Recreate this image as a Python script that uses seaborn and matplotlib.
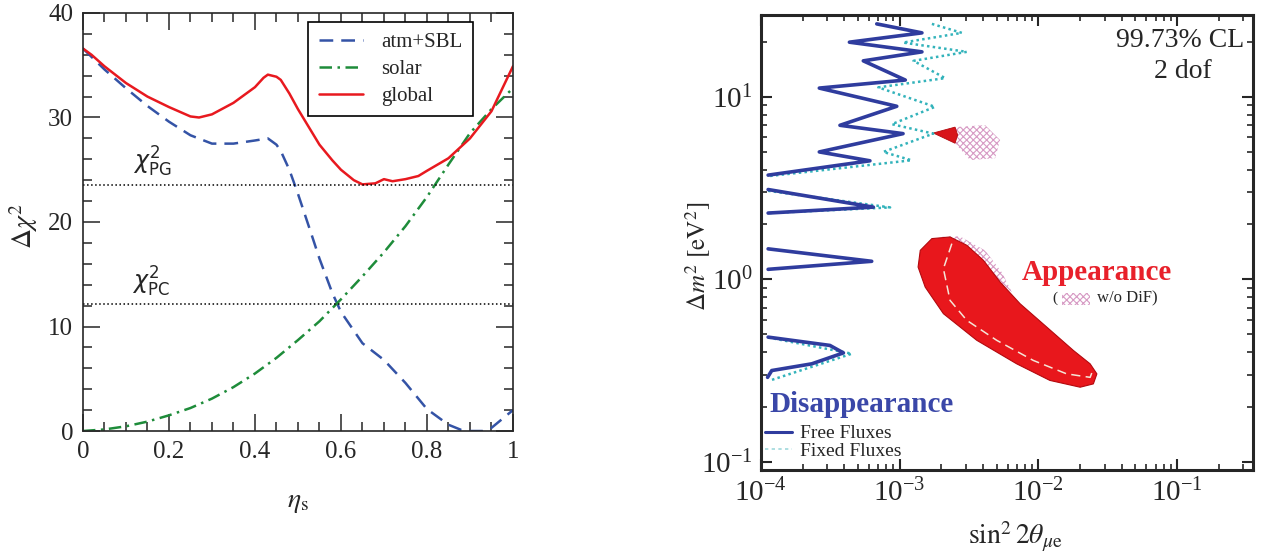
import matplotlib
matplotlib.use('Agg')
import matplotlib.pyplot as plt
import seaborn as sns
import pandas as pd
from matplotlib.lines import Line2D
from matplotlib.patches import Rectangle
from matplotlib.ticker import MultipleLocator, LogLocator, NullFormatter

# ---- left panel data (eta_s vs delta chi2) ----
atm_eta = [0.00, 0.05, 0.10, 0.15, 0.20, 0.25, 0.30, 0.35, 0.40, 0.43, 0.45, 0.46, 0.48,
           0.50, 0.53, 0.55, 0.58, 0.60, 0.63, 0.65, 0.70, 0.75, 0.80, 0.85, 0.88, 0.90,
           0.93, 0.95, 1.00]
atm_chi2 = [36.6, 34.6, 32.8, 31.1, 29.6, 28.3, 27.5, 27.5, 27.8, 28.0, 27.4, 26.8, 25.0,
            22.7, 19.0, 16.5, 13.2, 11.4, 9.6, 8.4, 6.8, 4.6, 2.1, 0.6, 0.1, 0.0,
            0.0, 0.3, 2.0]

solar_eta = [0.00, 0.05, 0.10, 0.15, 0.20, 0.25, 0.30, 0.35, 0.40, 0.45, 0.50, 0.55,
             0.60, 0.65, 0.70, 0.75, 0.80, 0.85, 0.90, 0.95, 1.00]
solar_chi2 = [0.0, 0.15, 0.45, 0.9, 1.5, 2.2, 3.1, 4.2, 5.5, 7.0, 8.7, 10.5,
              12.6, 14.8, 17.1, 19.6, 22.4, 25.5, 28.5, 30.8, 32.8]

glob_eta = [0.00, 0.02, 0.05, 0.10, 0.15, 0.20, 0.25, 0.27, 0.30, 0.35, 0.40, 0.42, 0.43,
            0.45, 0.46, 0.48, 0.50, 0.55, 0.58, 0.60, 0.63, 0.65, 0.68, 0.70, 0.72, 0.75,
            0.78, 0.80, 0.85, 0.90, 0.95, 1.00]
glob_chi2 = [36.6, 36.0, 34.9, 33.3, 32.0, 31.0, 30.1, 30.0, 30.3, 31.4, 32.9, 33.8, 34.1,
             33.9, 33.6, 32.3, 30.8, 27.4, 25.9, 25.0, 24.0, 23.6, 23.7, 24.1, 23.9, 24.1,
             24.4, 24.9, 26.1, 28.0, 30.6, 34.9]

chi2_pg = 23.5
chi2_pc = 12.2
eta_ticks = [0, 0.2, 0.4, 0.6, 0.8, 1]
eta_ticklabels = ['0', '0.2', '0.4', '0.6', '0.8', '1']

# ---- right panel data (sin^2 2theta vs dm^2) ----
free_x = [6.85e-4, 1.45e-3, 4.35e-4, 1.45e-3, 5.48e-4, 1.10e-3, 2.64e-4, 9.55e-4, 3.72e-4,
          1.06e-3, 2.64e-4, 6.12e-4, 1.13e-4,
          1.13e-4, 6.47e-4, 1.13e-4,
          1.13e-4, 6.30e-4, 1.13e-4,
          1.13e-4, 3.15e-4, 3.94e-4, 2.33e-4, 1.20e-4, 1.12e-4]
free_y = [25.2, 22.5, 20.0, 17.7, 15.8, 12.4, 11.2, 8.9, 7.0,
          6.3, 5.0, 4.47, 3.73,
          3.11, 2.49, 2.31,
          1.47, 1.256, 1.135,
          0.482, 0.434, 0.395, 0.344, 0.316, 0.29]
free_seg = [0] * 13 + [1] * 3 + [2] * 3 + [3] * 6

fixed_x = [1.71e-3, 2.81e-3, 1.06e-3, 3.05e-3, 1.26e-3, 2.13e-3, 7.03e-4, 1.80e-3, 8.8e-4,
           1.75e-3, 7.63e-4, 1.22e-3, 1.13e-4,
           1.13e-4, 8.55e-4, 1.13e-4,
           1.13e-4, 4.53e-4, 1.17e-4]
fixed_y = [25.2, 22.5, 19.9, 17.7, 15.8, 12.7, 11.3, 8.84, 7.1,
           6.3, 5.0, 4.5, 3.68,
           3.06, 2.48, 2.31,
           0.48, 0.391, 0.279]
fixed_seg = [0] * 13 + [1] * 3 + [2] * 3

app_x = [1.71e-3, 2.31e-3, 3.05e-3, 4.02e-3, 5.30e-3, 7.38e-3, 1.15e-2, 1.79e-2, 2.36e-2,
         2.64e-2, 2.49e-2, 2.0e-2, 1.21e-2, 6.98e-3, 3.6e-3, 2.07e-3, 1.53e-3, 1.36e-3, 1.41e-3]
app_y = [1.673, 1.708, 1.538, 1.272, 0.967, 0.735, 0.547, 0.407, 0.344,
         0.303, 0.267, 0.256, 0.279, 0.344, 0.463, 0.648, 0.907, 1.168, 1.442]

app_dash_x = [2.38e-3, 2.07e-3, 2.07e-3, 2.31e-3, 3.05e-3, 5.01e-3, 9.2e-3, 1.6e-2, 2.36e-2, 2.49e-2]
app_dash_y = [1.57, 1.326, 0.987, 0.767, 0.596, 0.463, 0.359, 0.303, 0.290, 0.323]

nodif_x = [1.89e-3, 2.73e-3, 4.13e-3, 5.47e-3, 6.45e-3, 5.30e-3, 4.02e-3, 3.05e-3, 2.31e-3]
nodif_y = [1.72, 1.72, 1.44, 1.09, 0.849, 0.967, 1.272, 1.538, 1.708]

tri_x = [1.75e-3, 2.51e-3, 2.62e-3, 2.51e-3]
tri_y = [6.35, 6.84, 6.2, 5.58]

nodif_small_x = [2.51e-3, 4.13e-3, 5.30e-3, 4.88e-3, 3.22e-3, 2.51e-3]
nodif_small_y = [6.84, 7.02, 5.81, 4.62, 4.51, 5.58]

sns.set_style('ticks')
plt.rcParams['font.family'] = ['Liberation Serif', 'DejaVu Serif']
plt.rcParams['mathtext.fontset'] = 'stix'
plt.rcParams['hatch.linewidth'] = 0.8

fig = plt.figure(figsize=(12.76, 5.55), dpi=100)
ax1 = fig.add_axes([0.065, 0.2234, 0.337, 0.7532])
ax2 = fig.add_axes([0.5962, 0.1532, 0.3858, 0.8198])

# ---------------- left panel ----------------
sns.lineplot(x=atm_eta, y=atm_chi2, ax=ax1, color='#3453a6', lw=1.8,
             linestyle=(0, (5.5, 3.2)), label='atm+SBL')
sns.lineplot(x=solar_eta, y=solar_chi2, ax=ax1, color='#1e8c3a', lw=1.8,
             linestyle=(0, (5, 2.2, 1, 2.2)), label='solar')
sns.lineplot(x=glob_eta, y=glob_chi2, ax=ax1, color='#e8191f', lw=1.8, label='global')
ax1.axhline(chi2_pg, color='k', ls=':', lw=1.1)
ax1.axhline(chi2_pc, color='k', ls=':', lw=1.1)
ax1.text(0.16, chi2_pg + 0.6, r'$\chi^2_{\mathrm{PG}}$', ha='center', va='bottom', fontsize=17,
         math_fontfamily='dejavusans')
ax1.text(0.157, chi2_pc + 0.4, r'$\chi^2_{\mathrm{PC}}$', ha='center', va='bottom', fontsize=17,
         math_fontfamily='dejavusans')

ax1.set_xlim(0, 1)
ax1.set_ylim(0, 40)
ax1.set_xticks(eta_ticks)
ax1.set_xticklabels(eta_ticklabels)
ax1.xaxis.set_minor_locator(MultipleLocator(0.05))
ax1.yaxis.set_major_locator(MultipleLocator(10))
ax1.yaxis.set_minor_locator(MultipleLocator(2))
ax1.tick_params(which='major', direction='in', top=True, right=True, length=12, width=1.1,
                labelsize=18, pad=7)
ax1.tick_params(which='minor', direction='in', top=True, right=True, length=6.5, width=1.1)
for s in ax1.spines.values():
    s.set_linewidth(1.2)
ax1.set_xlabel(r'$\eta_{\rm s}$', fontsize=20)
ax1.xaxis.set_label_coords(0.5, -0.14)
ax1.set_ylabel(r'$\Delta\chi^2$', fontsize=20)
ax1.yaxis.set_label_coords(-0.1, 0.49)
leg = ax1.legend(loc='upper right', bbox_to_anchor=(0.907, 0.978), borderaxespad=0,
                 fancybox=False, edgecolor='k', framealpha=1, fontsize=15,
                 handlelength=2.1, handletextpad=0.9, labelspacing=0.35, borderpad=0.5)
leg.get_frame().set_linewidth(1.2)

# ---------------- right panel ----------------
ax2.set_xscale('log')
ax2.set_yscale('log')
nodif_c = '#d79ac4'
ax2.fill(nodif_x, nodif_y, facecolor='none', edgecolor=nodif_c, hatch='xxxxx', lw=0, zorder=1)
ax2.fill(nodif_small_x, nodif_small_y, facecolor='none', edgecolor=nodif_c, hatch='xxxxx',
         lw=0, zorder=1)
ax2.fill(app_x, app_y, facecolor='#e8171c', edgecolor='#b3090e', lw=0.8, zorder=2)
ax2.fill(tri_x, tri_y, facecolor='#d8141a', edgecolor='#b3090e', lw=0.6, zorder=2)
sns.lineplot(x=app_dash_x, y=app_dash_y, ax=ax2, sort=False, color='#f4e6d8', lw=1.1,
             linestyle=(0, (6, 3.5)), zorder=3)

fixed_df = pd.DataFrame({'x': fixed_x, 'y': fixed_y, 'seg': fixed_seg})
free_df = pd.DataFrame({'x': free_x, 'y': free_y, 'seg': free_seg})
sns.lineplot(data=fixed_df, x='x', y='y', units='seg', estimator=None, sort=False, ax=ax2,
             color='#33b3bb', lw=1.8, linestyle=(0, (1, 1.3)), legend=False, zorder=3)
sns.lineplot(data=free_df, x='x', y='y', units='seg', estimator=None, sort=False, ax=ax2,
             color='#2f3c9e', lw=2.6, legend=False, zorder=4)

ax2.set_xlim(1e-4, 0.352)
ax2.set_ylim(0.09, 28.2)
for axis in (ax2.xaxis, ax2.yaxis):
    axis.set_major_locator(LogLocator(base=10, numticks=10))
    axis.set_minor_locator(LogLocator(base=10, subs=range(2, 10), numticks=20))
    axis.set_minor_formatter(NullFormatter())
ax2.tick_params(which='major', direction='in', top=True, right=True, length=8, width=1.5,
                labelsize=21, pad=6)
ax2.tick_params(which='minor', direction='in', top=True, right=True, length=4, width=1.2)
for s in ax2.spines.values():
    s.set_linewidth(2.2)
ax2.set_xlabel(r'$\sin^2 2\theta_{\mu\mathrm{e}}$', fontsize=20)
ax2.xaxis.set_label_coords(0.517, -0.11)
ax2.set_ylabel(r'$\Delta m^2\ [\mathrm{eV}^2]$', fontsize=18)
ax2.yaxis.set_label_coords(-0.097, 0.47)

ax2.text(0.852, 0.945, '99.73% CL', transform=ax2.transAxes, ha='center', va='center',
         fontsize=20)
ax2.text(0.857, 0.875, '2 dof', transform=ax2.transAxes, ha='center', va='center', fontsize=20)
ax2.text(0.683, 0.435, 'Appearance', transform=ax2.transAxes, ha='center', va='center',
         fontsize=21, fontweight='bold', color='#e8202a')
ax2.text(0.598, 0.377, '(', transform=ax2.transAxes, ha='center', va='center', fontsize=11)
ax2.add_patch(Rectangle((0.612, 0.362), 0.056, 0.028, transform=ax2.transAxes,
                        facecolor='none', edgecolor=nodif_c, hatch='xxxxx', lw=0))
ax2.text(0.683, 0.377, 'w/o DiF)', transform=ax2.transAxes, ha='left', va='center', fontsize=12)
ax2.text(0.018, 0.145, 'Disappearance', transform=ax2.transAxes, ha='left', va='center',
         fontsize=21, fontweight='bold', color='#3a47a8')
handles = [Line2D([], [], color='#2f3c9e', lw=2.2),
           Line2D([], [], color='#9fd8dc', lw=1.2, linestyle=(0, (2, 2)))]
ax2.legend(handles, ['Free Fluxes', 'Fixed Fluxes'], loc='lower left',
           bbox_to_anchor=(0.008, 0.022), borderaxespad=0, frameon=False, fontsize=14,
           handlelength=1.4, handletextpad=0.4, labelspacing=0.0, borderpad=0)

fig.savefig('out.png', dpi=100, facecolor='white')
